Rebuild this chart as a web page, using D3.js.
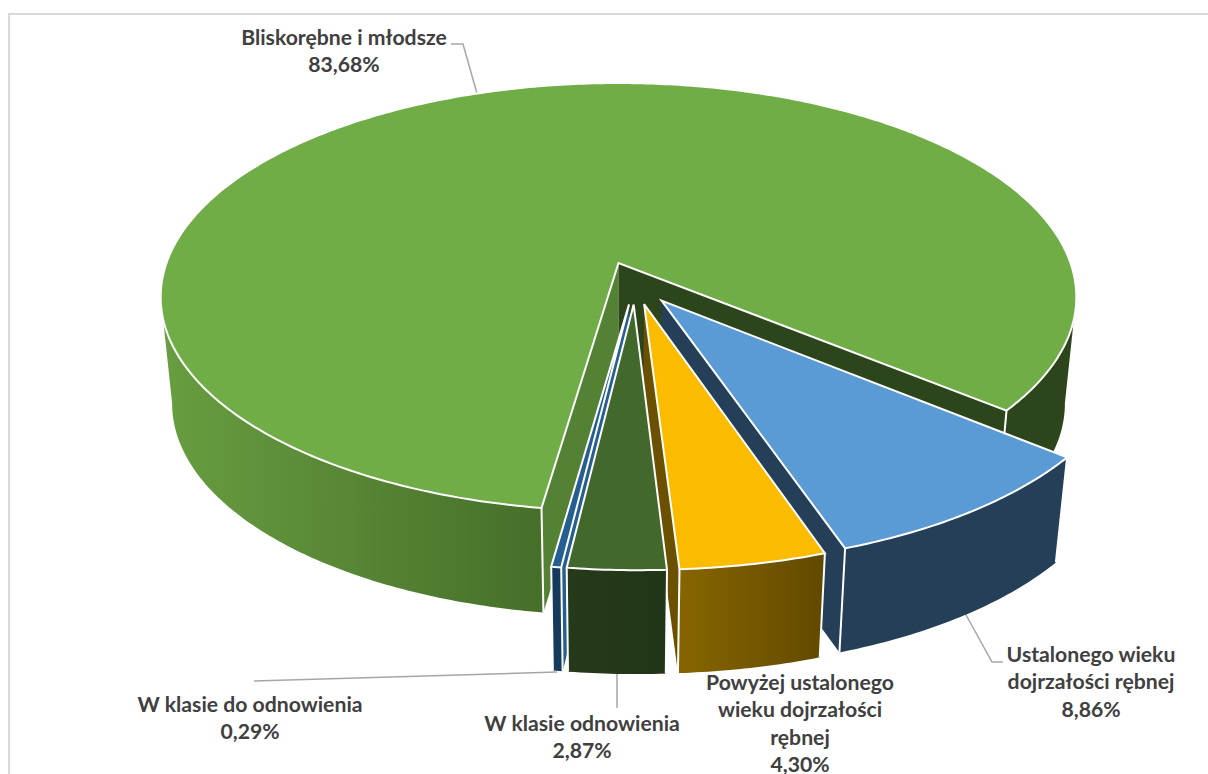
<!DOCTYPE html>
<html><head><meta charset="utf-8">
<script src="https://cdn.jsdelivr.net/npm/d3@7/dist/d3.min.js"></script>
<style>html,body{margin:0;padding:0;background:#fff}svg{display:block}
text{font-family:Lato,"Open Sans",sans-serif;font-weight:700;fill:#404040;font-size:21.2px;text-anchor:middle}</style>
</head><body><svg id="c" width="1208" height="774"></svg>
<script>
const categories=["Ustalonego wieku dojrzałości rębnej","Powyżej ustalonego wieku dojrzałości rębnej","W klasie odnowienia","W klasie do odnowienia","Bliskorębne i młodsze"];
const values=[8.86,4.30,2.87,0.29,83.68];
const valueLabels=["8,86%","4,30%","2,87%","0,29%","83,68%"];
const labelLines=[["Ustalonego wieku","dojrzałości rębnej"],["Powyżej ustalonego","wieku dojrzałości","rębnej"],["W klasie odnowienia"],["W klasie do odnowienia"],["Bliskorębne i młodsze"]];
const labelAnchors=[[1091,662],[800,690],[582,731],[250,712],[344,45]];
const leaders=[[[960,604],[992,662],[1003,662]],[],[[617,668],[617,708]],[[254,681],[557,672]],[[451,44],[463,44],[478,97]]];
const topColors=["#5b9bd5","#fbbc00","#43682b","#255e91","#70ad47"];
const wallColors=[["#243f57","#243f57"],["#876500","#614900"],["#263a1a","#213618"],["#153a5c","#153a5c"],["#689d40","#466f2a"]];
const startFaceColors=["#243f57","#6b5000","#2c431b","#255e91","#548235"];
const endFaceColors=["#243f57","#6b5000","#2c431b","#255e91","#2d451b"];

const deg=Math.PI/180, explode=0.1, K=0.159;
const sx0=618.5, sy0=263, A=452, B=208.6, DEPTH=107, SX=0.975, SY=0.99;
const svg=d3.select("#c");
const defs=svg.append("defs");
svg.append("path").attr("d","M1208,14H9V774").attr("fill","none").attr("stroke","#d9d9d9").attr("stroke-width",2);
const line=d3.line(), lineClosed=d3.line().curve(d3.curveLinearClosed);
// leaders go under the pie so that they stop at its edge
svg.append("g").selectAll("path").data(leaders.filter(l=>l.length)).join("path")
  .attr("d",l=>line(l)).attr("fill","none").attr("stroke","#a6a6a6").attr("stroke-width",1.5);

const arcs=d3.pie().sort(null).value(d=>d).startAngle(129.5*deg).endAngle(489.5*deg)(values);
const greenArc=arcs[4];
const dir=a=>[Math.sin(a),-Math.cos(a)];
const gMid=dir((greenArc.startAngle+greenArc.endAngle)/2);
function project(p,lower){
  const w=1-K*p[1];
  const x=A*p[0]/w, y=B*p[1]/w;
  return lower?[sx0+SX*x, sy0+DEPTH+SY*y]:[sx0+x, sy0+y];
}
const order=[4,0,1,3,2];
order.forEach(i=>{
  const d=arcs[i], m=dir((d.startAngle+d.endAngle)/2);
  const c=[explode*(m[0]-gMid[0]),explode*(m[1]-gMid[1])];
  const on=a=>{const u=dir(a);return [c[0]+u[0],c[1]+u[1]];};
  const sample=(a0,a1)=>{const n=Math.max(3,Math.ceil(Math.abs(a1-a0)/deg*1.5));return d3.range(n+1).map(j=>a0+(a1-a0)*j/n);};
  const angs=sample(d.startAngle,d.endAngle);
  const g=svg.append("g");
  const face=(a,col)=>g.append("path").attr("fill",col)
    .attr("d",lineClosed([project(c),project(on(a)),project(on(a),true),project(c,true)]));
  face(d.startAngle,startFaceColors[i]);
  face(d.endAngle,endFaceColors[i]);
  const wall=(as,fill)=>g.append("path").attr("fill",fill)
    .attr("d",lineClosed(as.map(a=>project(on(a))).concat(as.slice().reverse().map(a=>project(on(a),true)))));
  const xs=angs.map(a=>project(on(a))[0]);
  const dom=i===4?[165,540]:d3.extent(xs);
  const id="w"+i;
  const gr=defs.append("linearGradient").attr("id",id).attr("gradientUnits","userSpaceOnUse")
    .attr("x1",dom[0]).attr("x2",dom[1]).attr("y1",0).attr("y2",0);
  gr.selectAll("stop").data(wallColors[i]).join("stop").attr("offset",(s,j)=>j).attr("stop-color",s=>s);
  if(i===4){
    wall(sample(d.startAngle,261*deg),"url(#w4)");
    wall(sample(d.endAngle,459*deg),"#2d451b");
  } else wall(angs,"url(#"+id+")");
  [d.startAngle,d.endAngle].forEach(a=>g.append("path").attr("fill","none").attr("stroke","#fff").attr("stroke-width",2)
    .attr("d",line([project(on(a)),project(on(a),true)])));
  g.append("path").attr("fill",topColors[i]).attr("stroke","#fff").attr("stroke-width",2)
    .attr("d",lineClosed([project(c)].concat(angs.map(a=>project(on(a))))));
});
const lab=svg.append("g");
categories.forEach((c,i)=>{
  labelLines[i].concat([valueLabels[i]]).forEach((t,j)=>{
    lab.append("text").attr("x",labelAnchors[i][0]).attr("y",labelAnchors[i][1]+j*27.3).text(t);
  });
});
</script></body></html>
